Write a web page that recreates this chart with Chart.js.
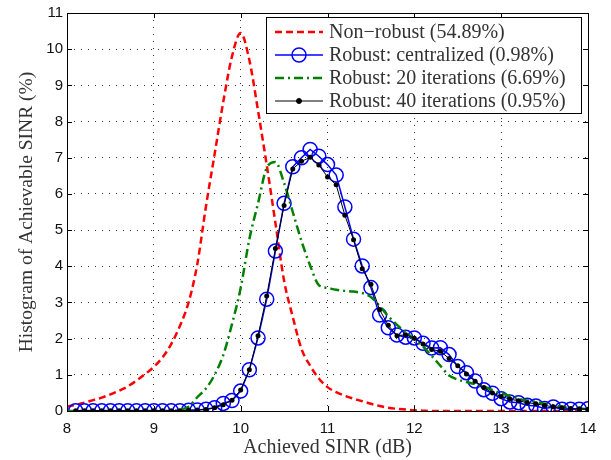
<!DOCTYPE html>
<html lang="en">
<head>
    <meta charset="UTF-8">
    <title>Histogram of Achievable SINR</title>
    <script src="https://cdn.jsdelivr.net/npm/chart.js"></script>
    <style>
        body { margin: 0; background: #fff; }
        canvas { display: block; }
    </style>
</head>
<body>
    <canvas id="sinrChart" width="611" height="460"></canvas>

    <script>
        // SINR grid (dB), 0.1 dB bins
        const sinrGrid = [
            8.0, 8.1, 8.2, 8.3, 8.4, 8.5, 8.6, 8.7, 8.8, 8.9,
            9.0, 9.1, 9.2, 9.3, 9.4, 9.5, 9.6, 9.7, 9.8, 9.9,
            10.0, 10.1, 10.2, 10.3, 10.4, 10.5, 10.6, 10.7, 10.8, 10.9,
            11.0, 11.1, 11.2, 11.3, 11.4, 11.5, 11.6, 11.7, 11.8, 11.9,
            12.0, 12.1, 12.2, 12.3, 12.4, 12.5, 12.6, 12.7, 12.8, 12.9,
            13.0, 13.1, 13.2, 13.3, 13.4, 13.5, 13.6, 13.7, 13.8, 13.9,
            14.0
        ];

        // 8.0 .. 14.0
        const nonRobust = [
            0.12, 0.17, 0.23, 0.30, 0.37, 0.46, 0.56, 0.68, 0.84, 1.02,
            1.22, 1.48, 1.85, 2.35, 3.00, 4.05, 5.65, 7.10, 8.55, 9.80,
            10.45, 9.70, 8.30, 6.80, 5.20, 3.60, 2.60, 1.72, 1.25, 0.90,
            0.66, 0.52, 0.42, 0.34, 0.27, 0.20, 0.14, 0.09, 0.06, 0.04,
            0.02, 0.01, 0, 0, 0, 0, 0, 0, 0, 0,
            0, 0, 0, 0, 0, 0, 0, 0, 0, 0,
            0
        ];

        // 8.0 .. 14.0
        const iter20 = [
            0, 0, 0, 0, 0, 0, 0, 0, 0, 0,
            0, 0, 0, 0.04, 0.12, 0.38, 0.62, 1.00, 1.55, 2.40,
            3.40, 4.75, 5.74, 6.72, 6.88, 6.30, 5.50, 4.70, 4.02, 3.48,
            3.40, 3.35, 3.32, 3.30, 3.26, 3.15, 2.90, 2.62, 2.38, 2.18,
            1.98, 1.78, 1.52, 1.25, 0.98, 0.87, 0.80, 0.74, 0.68, 0.58,
            0.49, 0.42, 0.34, 0.29, 0.25, 0.20, 0.16, 0.12, 0.09, 0.07,
            0.05
        ];

        // 8.1 .. 14.0
        const centralized = [
            0.01, 0.01, 0.01, 0.01, 0.01, 0.01, 0.01, 0.01, 0.01,
            0.01, 0.01, 0.01, 0.01, 0.02, 0.03, 0.05, 0.09, 0.21, 0.29,
            0.55, 1.14, 2.02, 3.09, 4.42, 5.74, 6.75, 7.00, 7.23, 7.04,
            6.81, 6.52, 5.64, 4.75, 4.01, 3.41, 2.65, 2.30, 2.10, 2.04,
            2.02, 1.87, 1.74, 1.75, 1.56, 1.23, 1.06, 0.83, 0.59, 0.49,
            0.34, 0.25, 0.23, 0.16, 0.14, 0.07, 0.11, 0.05, 0.05, 0.05,
            0.06
        ];

        // 8.1 .. 14.0
        const iter40 = [
            0.01, 0.01, 0.01, 0.01, 0.01, 0.01, 0.01, 0.01, 0.01,
            0.01, 0.01, 0.01, 0.01, 0.02, 0.03, 0.04, 0.09, 0.17, 0.30,
            0.58, 1.14, 2.08, 3.18, 4.49, 5.68, 6.69, 6.90, 7.01, 6.80,
            6.47, 6.25, 5.41, 4.73, 3.93, 3.50, 2.80, 2.37, 2.08, 2.11,
            2.01, 1.85, 1.70, 1.65, 1.45, 1.25, 1.02, 0.82, 0.65, 0.50,
            0.40, 0.33, 0.28, 0.23, 0.20, 0.15, 0.12, 0.09, 0.07, 0.06,
            0.05
        ];

        const legendLabels = [
            'Non\u2212robust (54.89%)',
            'Robust: centralized (0.98%)',
            'Robust: 20 iterations (6.69%)',
            'Robust: 40 iterations (0.95%)'
        ];

        const serif = '"Liberation Serif", "DejaVu Serif", serif';
        const sans = '"Liberation Sans", Arial, sans-serif';

        const fullGrid = ys => ys.map((y, i) => ({ x: sinrGrid[i], y: y }));
        const tailGrid = ys => ys.map((y, i) => ({ x: sinrGrid[i + 1], y: y }));

        // frame, inward ticks and boxed legend like matlab
        const matlabDecor = {
            id: 'matlabDecor',
            afterDraw(chart) {
                const { ctx, chartArea: a, scales } = chart;
                ctx.save();
                ctx.strokeStyle = '#000';
                ctx.lineWidth = 1;
                ctx.setLineDash([]);
                ctx.strokeRect(a.left + 0.5, a.top + 0.5, a.right - a.left, a.bottom - a.top);

                const tl = 5;
                ctx.beginPath();
                scales.x.ticks.forEach(t => {
                    const px = Math.round(scales.x.getPixelForValue(t.value)) + 0.5;
                    ctx.moveTo(px, a.bottom); ctx.lineTo(px, a.bottom - tl);
                    ctx.moveTo(px, a.top); ctx.lineTo(px, a.top + tl);
                });
                scales.y.ticks.forEach(t => {
                    const py = Math.round(scales.y.getPixelForValue(t.value)) + 0.5;
                    ctx.moveTo(a.left, py); ctx.lineTo(a.left + tl, py);
                    ctx.moveTo(a.right, py); ctx.lineTo(a.right - tl, py);
                });
                ctx.stroke();

                // legend box
                const box = { left: 266, top: 17, right: 581, bottom: 113 };
                ctx.fillStyle = '#fff';
                ctx.fillRect(box.left, box.top, box.right - box.left, box.bottom - box.top);
                ctx.strokeStyle = '#000';
                ctx.lineWidth = 1;
                ctx.strokeRect(box.left + 0.5, box.top + 0.5, box.right - box.left, box.bottom - box.top);

                const rowY = [32, 55, 78, 101];
                ctx.font = '20px ' + serif;
                ctx.textBaseline = 'middle';
                chart.data.datasets.forEach((ds, i) => {
                    const y = rowY[i];
                    ctx.strokeStyle = ds.borderColor;
                    ctx.lineWidth = ds.borderWidth;
                    ctx.setLineDash(ds.borderDash || []);
                    ctx.beginPath();
                    ctx.moveTo(275, y);
                    ctx.lineTo(323, y);
                    ctx.stroke();
                    ctx.setLineDash([]);
                    if (ds.pointRadius > 0) {
                        ctx.beginPath();
                        ctx.arc(299, y, ds.pointRadius, 0, Math.PI * 2);
                        ctx.fillStyle = ds.pointBackgroundColor;
                        ctx.strokeStyle = ds.pointBorderColor;
                        ctx.lineWidth = ds.pointBorderWidth;
                        ctx.fill();
                        ctx.stroke();
                    }
                    ctx.fillStyle = '#333';
                    ctx.fillText(ds.label, 329, y + 1);
                });
                ctx.restore();
            }
        };

        new Chart(document.getElementById('sinrChart'), {
            type: 'line',
            data: {
                datasets: [
                    {
                        label: legendLabels[0],
                        data: fullGrid(nonRobust),
                        borderColor: '#ff0000',
                        borderWidth: 2.5,
                        borderDash: [7, 4],
                        pointRadius: 0,
                        cubicInterpolationMode: 'monotone',
                        order: 4
                    },
                    {
                        label: legendLabels[1],
                        data: tailGrid(centralized),
                        borderColor: '#0000ff',
                        borderWidth: 1.5,
                        pointRadius: 7,
                        pointBorderWidth: 1.5,
                        pointBorderColor: '#0000ff',
                        pointBackgroundColor: 'rgba(0,0,0,0)',
                        tension: 0,
                        order: 3
                    },
                    {
                        label: legendLabels[2],
                        data: fullGrid(iter20),
                        borderColor: '#008000',
                        borderWidth: 2.5,
                        borderDash: [9, 4, 2, 4],
                        pointRadius: 0,
                        cubicInterpolationMode: 'monotone',
                        order: 2
                    },
                    {
                        label: legendLabels[3],
                        data: tailGrid(iter40),
                        borderColor: '#000000',
                        borderWidth: 1,
                        pointRadius: 2.5,
                        pointBorderWidth: 0,
                        pointBorderColor: '#000000',
                        pointBackgroundColor: '#000000',
                        tension: 0,
                        order: 1
                    }
                ]
            },
            options: {
                responsive: false,
                animation: false,
                devicePixelRatio: 1,
                layout: { padding: { top: 10, right: 23, left: 0, bottom: 0 } },
                plugins: {
                    legend: { display: false },
                    tooltip: { enabled: false }
                },
                scales: {
                    x: {
                        type: 'linear',
                        min: 8,
                        max: 14,
                        afterFit(scale) { scale.height = 49; },
                        ticks: {
                            stepSize: 1,
                            padding: 9,
                            color: '#111',
                            font: { family: sans, size: 15 }
                        },
                        grid: { color: '#333', lineWidth: 1, drawTicks: false },
                        border: { display: false, dash: [1, 6] },
                        title: {
                            display: true,
                            text: 'Achieved SINR (dB)',
                            color: '#333',
                            font: { family: serif, size: 20 },
                            padding: { top: 0, bottom: 0 }
                        }
                    },
                    y: {
                        min: 0,
                        max: 11,
                        afterFit(scale) { scale.width = 67; },
                        ticks: {
                            stepSize: 1,
                            padding: 4,
                            color: '#111',
                            font: { family: sans, size: 15 }
                        },
                        grid: { color: '#333', lineWidth: 1, drawTicks: false },
                        border: { display: false, dash: [1, 6] },
                        title: {
                            display: true,
                            text: 'Histogram of Achievable SINR (%)',
                            color: '#333',
                            font: { family: serif, size: 19.5 },
                            padding: { top: 15, bottom: 0 }
                        }
                    }
                }
            },
            plugins: [matlabDecor]
        });
    </script>
</body>
</html>
